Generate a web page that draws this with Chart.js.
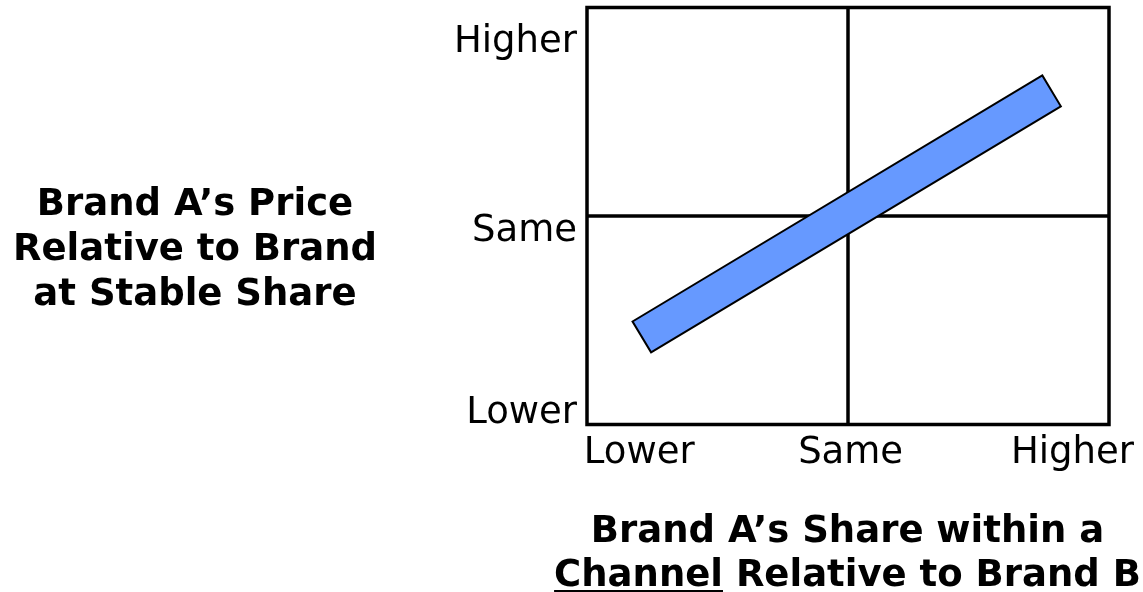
<!DOCTYPE html>
<html>
<head>
<meta charset="utf-8">
<script src="https://cdn.jsdelivr.net/npm/chart.js@4"></script>
<style>
  body { margin: 0; background: #fff; }
  #stage { position: relative; width: 1143px; height: 592px; overflow: hidden; }
  #chart { position: absolute; left: 0; top: 0; }
  .axis-title {
    position: absolute;
    font-family: "DejaVu Sans", sans-serif;
    font-weight: bold;
    font-size: 37px;
    color: #000;
    text-align: center;
    white-space: nowrap;
  }
  #yTitle { left: 0; width: 390px; top: 180px; line-height: 45px; }
  #xTitle { left: 552px; width: 591px; top: 508px; line-height: 44px; }
  #xTitle u { text-underline-offset: 4px; text-decoration-thickness: 2px; }
</style>
</head>
<body>
<div id="stage">
  <canvas id="chart" width="1143" height="592"></canvas>
  <div id="yTitle" class="axis-title">Brand A’s Price<br>Relative to Brand<br>at Stable Share</div>
  <div id="xTitle" class="axis-title">Brand A’s Share within a<br><u>Channel</u> Relative to Brand B</div>
</div>
<script>
// axis labels and where they sit on the 0..2 scales
const xTickLabels = ['Lower', 'Same', 'Higher'];
const xTickValues = [0.2, 1.01, 1.86];
const yTickLabels = ['Lower', 'Same', 'Higher'];
const yTickValues = [0.055, 0.925, 1.835];

// the "same" level splits the box into quadrants
const splitValue = 1;
const axisMin = 0;
const axisMax = 2;

// price vs share band
const bandX = [0.21, 1.78];
const bandY = [0.42, 1.60];

const bandPoints = bandX.map((x, i) => ({ x: x, y: bandY[i] }));

// frame around the plot area
const framePlugin = {
  id: 'frame',
  afterDatasetsDraw(chart) {
    const { ctx, chartArea: a } = chart;
    ctx.save();
    ctx.strokeStyle = '#000';
    ctx.lineWidth = 3.5;
    ctx.strokeRect(a.left, a.top, a.right - a.left, a.bottom - a.top);
    ctx.restore();
  }
};

// thin black edge round the thick band line
const bandOutline = {
  id: 'bandOutline',
  afterDatasetsDraw(chart) {
    const ctx = chart.ctx;
    const pts = chart.getDatasetMeta(0).data;
    const a = pts[0], b = pts[pts.length - 1];
    const half = chart.data.datasets[0].borderWidth / 2;
    const dx = b.x - a.x, dy = b.y - a.y;
    const len = Math.hypot(dx, dy);
    const nx = -dy / len * half, ny = dx / len * half;
    ctx.save();
    ctx.strokeStyle = '#000';
    ctx.lineWidth = 2;
    ctx.lineJoin = 'miter';
    ctx.beginPath();
    ctx.moveTo(a.x + nx, a.y + ny);
    ctx.lineTo(b.x + nx, b.y + ny);
    ctx.lineTo(b.x - nx, b.y - ny);
    ctx.lineTo(a.x - nx, a.y - ny);
    ctx.closePath();
    ctx.stroke();
    ctx.restore();
  }
};

// labels are placed inside the range, so no edge padding is needed
function noEdgePadding(s) {
  s.paddingTop = 0;
  s.paddingBottom = 0;
  s.paddingLeft = 0;
  s.paddingRight = 0;
}

const tickFont = { family: 'DejaVu Sans', size: 37 };

new Chart(document.getElementById('chart'), {
  type: 'line',
  data: {
    datasets: [
      {
        data: bandPoints,
        borderColor: '#6699ff',
        borderWidth: 36,
        borderCapStyle: 'butt',
        pointRadius: 0,
        fill: false
      },
      {
        data: [{ x: splitValue, y: axisMin }, { x: splitValue, y: axisMax }],
        borderColor: '#000',
        borderWidth: 3.5,
        pointRadius: 0
      },
      {
        data: [{ x: axisMin, y: splitValue }, { x: axisMax, y: splitValue }],
        borderColor: '#000',
        borderWidth: 3.5,
        pointRadius: 0
      }
    ]
  },
  options: {
    responsive: false,
    animation: false,
    devicePixelRatio: 1,
    layout: { padding: { top: 7.5, right: 34, bottom: 0, left: 0 } },
    plugins: {
      legend: { display: false },
      tooltip: { enabled: false }
    },
    scales: {
      x: {
        type: 'linear',
        min: axisMin,
        max: axisMax,
        grid: { display: false, drawTicks: false },
        border: { display: false },
        afterBuildTicks: s => { s.ticks = xTickValues.map(v => ({ value: v })); },
        afterFit: s => { s.height = 167.5; noEdgePadding(s); },
        ticks: {
          font: tickFont,
          color: '#000',
          padding: 7,
          autoSkip: false,
          maxRotation: 0,
          callback: (v, i) => xTickLabels[i]
        }
      },
      y: {
        type: 'linear',
        min: axisMin,
        max: axisMax,
        grid: { display: false, drawTicks: false },
        border: { display: false },
        afterBuildTicks: s => { s.ticks = yTickValues.map(v => ({ value: v })); },
        afterFit: s => { s.width = 587; noEdgePadding(s); },
        ticks: {
          font: tickFont,
          color: '#000',
          padding: 10,
          autoSkip: false,
          callback: (v, i) => yTickLabels[i]
        }
      }
    }
  },
  plugins: [framePlugin, bandOutline]
});
</script>
</body>
</html>
